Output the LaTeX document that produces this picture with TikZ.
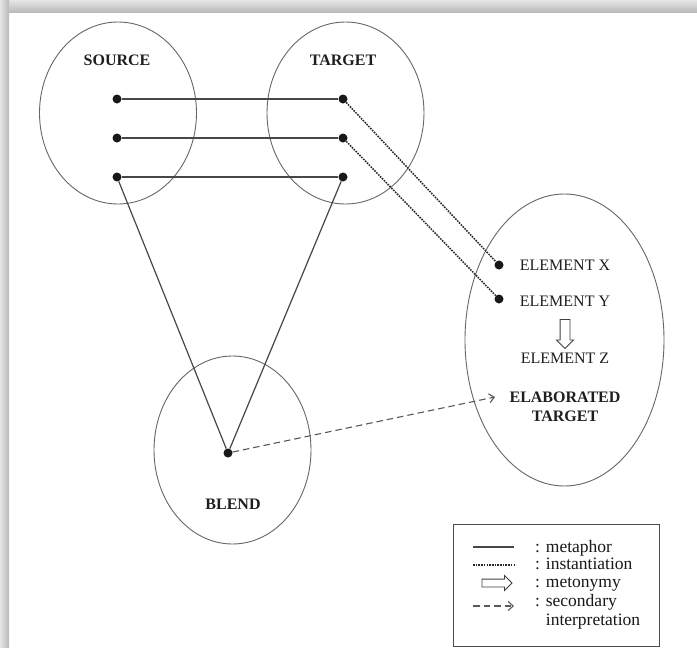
\documentclass[tikz,border=0pt]{standalone}
\usepackage{fontspec}
\setmainfont{Liberation Serif}
\usetikzlibrary{positioning,shapes.geometric,shapes.arrows,arrows.meta}

\tikzset{
  mspace/.style={draw=black!60, line width=0.9pt, ellipse, inner sep=0pt},
  dot/.style={inner sep=0pt, minimum size=9pt, circle, fill=black!90},
  metaphor/.style={draw=black!72, line width=1.2pt},
  instantiation/.style={draw=black!85, line width=1.5pt, dash pattern=on 1.6pt off 1.1pt},
  secondary/.style={draw=black!65, line width=1.1pt, dash pattern=on 6.5pt off 4pt,
    -{Straight Barb[length=5pt,width=9pt]}},
  metonymy/.style={single arrow, draw=black!75, line width=0.9pt, inner sep=4.5pt,
    single arrow head extend=3.5pt, minimum height=29pt},
  lbl/.style={inner sep=0pt, text=black!88, font=\fontsize{16}{19}\selectfont},
  spacename/.style={lbl, font=\fontsize{16}{19}\selectfont\bfseries},
  legtxt/.style={inner sep=0pt, anchor=base west, text=black!90, align=left,
    font=\fontsize{17.5}{18.5}\selectfont},
}

\begin{document}
\begin{tikzpicture}[x=1pt, y=-1pt]
  \useasboundingbox (0,0) rectangle (697,648);
  \fill[white] (0,0) rectangle (697,648);
  % page shadow
  \shade[top color=gray!20, bottom color=gray!55] (0,0) rectangle (697,12.5);
  \shade[left color=gray!20, right color=gray!55] (0,0) rectangle (9,648);

  % the four spaces
  \node[mspace, minimum width=157pt, minimum height=182pt] (source) at (118,113) {};
  \node[mspace, minimum width=157pt, minimum height=182pt] (target) at (345.5,113) {};
  \node[mspace, minimum width=157pt, minimum height=188pt] (blend) at (232.5,450) {};
  \node[mspace, minimum width=199pt, minimum height=292pt] (elab) at (564.5,340) {};

  \node[dot] (s1) at (117,99) {};
  \node[dot] (s2) at (117,138) {};
  \node[dot] (s3) at (117,177) {};
  \node[dot] (t1) at (343,99) {};
  \node[dot] (t2) at (343,138) {};
  \node[dot] (t3) at (343,177) {};
  \node[dot] (ex) at (499,265) {};
  \node[dot] (ey) at (499,299) {};
  \node[dot] (b) at (228,453) {};

  \node[spacename, above=28pt of s1] {SOURCE};
  \node[spacename, above=28pt of t1] {TARGET};
  \node[spacename] at (233,504) {BLEND};

  \node[lbl] (x) at (565,265) {ELEMENT X};
  \node[lbl] (y) at (565,301) {ELEMENT Y};
  \node[metonymy, rotate=-90] (yz) at (565,331.5) {};
  \node[lbl] (z) at (565,358) {ELEMENT Z};
  \node[spacename, align=center] (et) at (565,406.5) {ELABORATED\\TARGET};
  \coordinate (sec) at (495,397);

  % mappings
  \draw[metaphor] (s1) -- (t1);
  \draw[metaphor] (s2) -- (t2);
  \draw[metaphor] (s3) -- (t3);
  \draw[metaphor] (s3) -- (b);
  \draw[metaphor] (t3) -- (b);
  \draw[instantiation] (t1) -- (ex);
  \draw[instantiation] (t2) -- (ey);
  \draw[secondary] (b) -- (sec);

  % legend
  \node[draw=black!70, line width=0.9pt, minimum width=206pt, minimum height=122pt,
    inner sep=0pt] (legend) at (556,585) {};
  \coordinate (ma) at (473,547);
  \coordinate (mb) at (514,547);
  \coordinate (ia) at (473,565);
  \coordinate (ib) at (514,565);
  \coordinate (da) at (473,606);
  \coordinate (db) at (514,606);
  \draw[metaphor] (ma) -- (mb);
  \draw[instantiation] (ia) -- (ib);
  \node[metonymy, inner sep=3.5pt, minimum height=30pt] (lm) at (495,583) {};
  \draw[secondary] (da) -- (db);

  \node[legtxt] at (535,552) {: metaphor};
  \node[legtxt] at (535,569.5) {: instantiation};
  \node[legtxt] at (535,587) {: metonymy};
  \node[legtxt] at (535,625) {: secondary\\\phantom{: }interpretation};
\end{tikzpicture}
\end{document}
